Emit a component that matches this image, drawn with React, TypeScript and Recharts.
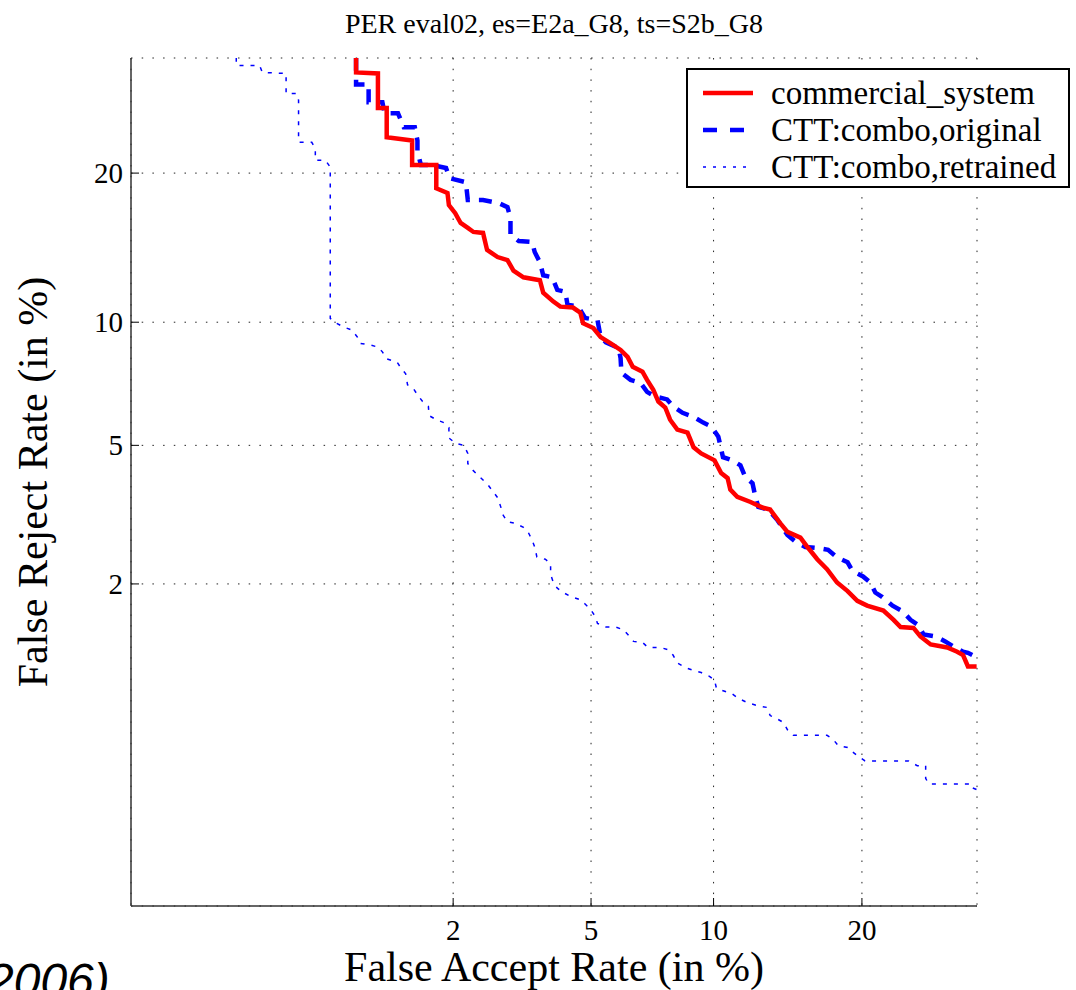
import { LineChart, Line, XAxis, YAxis, CartesianGrid } from "recharts";

// DET curve values: [false accept %, false reject %]
const commercial: [number, number][] = [
  [0.96, 30.8], [0.96, 29.3], [1.14, 29.2], [1.14, 25.8], [1.22, 25.8], [1.22, 23.1], [1.48, 22.8], [1.48, 20.67],
  [1.77, 20.67], [1.77, 18.77], [1.92, 18.4], [1.94, 17.46], [2.03, 16.86], [2.11, 16.14], [2.22, 15.79], [2.31, 15.5],
  [2.47, 15.43], [2.54, 14.27], [2.73, 13.8], [2.92, 13.6], [3.04, 12.94], [3.25, 12.53], [3.62, 12.35], [3.7, 11.61],
  [3.95, 11.11], [4.13, 10.83], [4.47, 10.78], [4.68, 10.5], [4.76, 9.95], [5.07, 9.7], [5.3, 9.25], [5.63, 8.95],
  [5.97, 8.64], [6.22, 8.32], [6.41, 7.88], [6.78, 7.67], [6.96, 7.33], [7.21, 6.93], [7.42, 6.48], [7.71, 6.26],
  [7.92, 5.83], [8.24, 5.5], [8.71, 5.4], [9.0, 4.94], [9.37, 4.76], [10.05, 4.56], [10.4, 4.21], [10.75, 4.08],
  [10.9, 3.79], [11.29, 3.62], [12.06, 3.5], [12.82, 3.37], [13.27, 3.33], [13.93, 3.04], [14.4, 2.87], [15.29, 2.76],
  [15.79, 2.59], [16.5, 2.38], [17.23, 2.22], [18.0, 2.02], [18.83, 1.9], [19.62, 1.77], [20.43, 1.71], [21.83, 1.65],
  [22.73, 1.54], [23.36, 1.46], [24.55, 1.45], [25.2, 1.36], [26.18, 1.28], [27.8, 1.25], [28.8, 1.21], [29.4, 1.18],
  [29.9, 1.08], [30.8, 1.08],
];

const original: [number, number][] = [
  [0.96, 30.8], [0.96, 28.1], [1.06, 28.1], [1.06, 26.36], [1.18, 26.36], [1.2, 25.3], [1.33, 25.3], [1.39, 24.0],
  [1.51, 24.0], [1.54, 22.8], [1.54, 21.9], [1.58, 20.67], [1.72, 20.67], [1.9, 20.42], [1.95, 19.58], [2.19, 19.25],
  [2.22, 17.85], [2.47, 17.85], [2.75, 17.62], [2.92, 17.31], [2.98, 16.5], [2.98, 15.29], [3.15, 14.87], [3.44, 14.8],
  [3.5, 14.13], [3.62, 13.47], [3.7, 12.65], [3.92, 12.53], [4.05, 11.78], [4.26, 11.67], [4.32, 10.94], [4.62, 10.83],
  [4.82, 10.22], [5.2, 10.11], [5.3, 9.25], [5.47, 9.0], [5.9, 8.73], [5.97, 8.27], [6.0, 7.63], [6.33, 7.33],
  [6.7, 7.21], [6.96, 6.85], [7.29, 6.67], [7.79, 6.56], [8.05, 6.3], [8.48, 6.07], [9.0, 5.93], [9.47, 5.73],
  [9.89, 5.6], [10.25, 5.27], [10.5, 4.65], [11.0, 4.56], [11.47, 4.42], [11.76, 4.1], [12.18, 3.95], [12.35, 3.62],
  [12.53, 3.39], [13.13, 3.33], [13.73, 3.11], [14.4, 2.81], [14.93, 2.69], [15.64, 2.59], [16.57, 2.57], [17.31, 2.54],
  [18.0, 2.41], [18.83, 2.33], [19.23, 2.19], [20.09, 2.11], [20.7, 2.02], [21.13, 1.88], [21.74, 1.82], [22.64, 1.71],
  [23.55, 1.64], [24.27, 1.54], [25.0, 1.48], [25.5, 1.38], [26.64, 1.36], [27.6, 1.31], [28.4, 1.26], [29.4, 1.21],
  [29.9, 1.2], [30.8, 1.16],
];

const retrained: [number, number][] = [
  [0.35, 30.8], [0.35, 30.0], [0.43, 30.0], [0.44, 29.3], [0.54, 29.2], [0.54, 27.2], [0.59, 27.2], [0.6, 26.55],
  [0.6, 22.64], [0.67, 22.64], [0.69, 22.1], [0.69, 21.08], [0.75, 21.08], [0.78, 20.5], [0.78, 10.2], [0.82, 9.95],
  [0.87, 9.75], [0.93, 9.6], [0.97, 9.25], [0.99, 8.95], [1.08, 8.86], [1.14, 8.77], [1.18, 8.55], [1.22, 8.23],
  [1.32, 8.09], [1.36, 7.83], [1.41, 7.58], [1.43, 7.13], [1.49, 7.0], [1.54, 6.74], [1.6, 6.48], [1.67, 6.3],
  [1.68, 5.97], [1.77, 5.83], [1.87, 5.73], [1.94, 5.57], [1.94, 5.23], [2.03, 5.07], [2.16, 5.0], [2.22, 4.76],
  [2.22, 4.47], [2.3, 4.29], [2.38, 4.16], [2.47, 4.03], [2.56, 3.9], [2.73, 3.6], [2.79, 3.39], [2.83, 3.22],
  [2.92, 3.07], [3.08, 3.04], [3.25, 2.96], [3.35, 2.87], [3.44, 2.72], [3.5, 2.59], [3.55, 2.42], [3.75, 2.38],
  [3.88, 2.31], [3.88, 2.14], [3.95, 2.02], [4.05, 1.94], [4.21, 1.88], [4.39, 1.83], [4.65, 1.79], [4.82, 1.73],
  [4.97, 1.67], [5.13, 1.58], [5.2, 1.5], [5.47, 1.46], [5.8, 1.46], [6.07, 1.43], [6.26, 1.37], [6.44, 1.31],
  [6.78, 1.3], [7.0, 1.25], [7.5, 1.25], [7.83, 1.23], [8.05, 1.18], [8.24, 1.11], [8.62, 1.07], [8.95, 1.05],
  [9.37, 1.03], [9.79, 1.0], [10.05, 0.97], [10.15, 0.91], [10.55, 0.89], [11.0, 0.87], [11.35, 0.84], [11.88, 0.81],
  [12.53, 0.79], [13.07, 0.78], [13.27, 0.73], [13.73, 0.71], [14.13, 0.69], [14.4, 0.65], [14.8, 0.62], [17.23, 0.62],
  [17.69, 0.6], [18.08, 0.57], [18.83, 0.56], [19.23, 0.54], [19.69, 0.52], [20.26, 0.5], [24.09, 0.5], [24.9, 0.48],
  [25.7, 0.48], [25.7, 0.43], [26.0, 0.41], [30.1, 0.41], [30.1, 0.4], [30.8, 0.39],
];

const tickPercents = [2, 5, 10, 20];
const seriesNames = ["commercial_system", "CTT:combo,original", "CTT:combo,retrained"];

// inverse normal CDF (Acklam) -> DET axes are in normal deviates
function probit(p: number) {
  const a = [-39.69683028665376, 220.9460984245205, -275.9285104469687, 138.357751867269, -30.66479806614716, 2.506628277459239];
  const b = [-54.47609879822406, 161.5858368580409, -155.6989798598866, 66.80131188771972, -13.28068155288572];
  const c = [-0.007784894002430293, -0.3223964580411365, -2.400758277161838, -2.549732539343734, 4.374664141464968, 2.938163982698783];
  const d = [0.007784695709041462, 0.3224671290700398, 2.445134137142996, 3.754408661907416];
  const lo = 0.02425;
  if (p < lo) {
    const q = Math.sqrt(-2 * Math.log(p));
    return (((((c[0] * q + c[1]) * q + c[2]) * q + c[3]) * q + c[4]) * q + c[5]) / ((((d[0] * q + d[1]) * q + d[2]) * q + d[3]) * q + 1);
  }
  if (p <= 1 - lo) {
    const q = p - 0.5;
    const r = q * q;
    return ((((((a[0] * r + a[1]) * r + a[2]) * r + a[3]) * r + a[4]) * r + a[5]) * q) / (((((b[0] * r + b[1]) * r + b[2]) * r + b[3]) * r + b[4]) * r + 1);
  }
  const q = Math.sqrt(-2 * Math.log(1 - p));
  return -(((((c[0] * q + c[1]) * q + c[2]) * q + c[3]) * q + c[4]) * q + c[5]) / ((((d[0] * q + d[1]) * q + d[2]) * q + d[3]) * q + 1);
}

const toDet = (pts: [number, number][]) => pts.map(([far, frr]) => ({ x: probit(far / 100), y: probit(frr / 100) }));
const ticks = tickPercents.map((t) => probit(t / 100));
const label = (v: number) => {
  const i = ticks.findIndex((t) => Math.abs(t - v) < 1e-6);
  return i >= 0 ? String(tickPercents[i]) : "";
};

const SERIF = "'Liberation Serif', 'Times New Roman', serif";

function YTick({ x, y, payload }: any) {
  return (
    <g>
      <line x1={x + 8} x2={x + 16} y1={y} y2={y} stroke="#000" strokeWidth={1} />
      <text x={x} y={y} dy={10} textAnchor="end" fontFamily={SERIF} fontSize={29} fill="#000">
        {label(payload.value)}
      </text>
    </g>
  );
}

function XTick({ x, y, payload }: any) {
  return (
    <g>
      <line x1={x} x2={x} y1={y} y2={y - 8} stroke="#000" strokeWidth={1} />
      <text x={x} y={y + 34} textAnchor="middle" fontFamily={SERIF} fontSize={29} fill="#000">
        {label(payload.value)}
      </text>
    </g>
  );
}

export default function App() {
  return (
    <div style={{ position: "absolute", left: 0, top: 0, width: 1076, height: 990, background: "#fff", overflow: "hidden" }}>
      <LineChart width={1076} height={990} margin={{ top: 58, right: 99, bottom: 44, left: 71 }}>
        <CartesianGrid stroke="#222" strokeDasharray="1.5 9.2" />
        <XAxis
          type="number"
          dataKey="x"
          domain={[-3.009, -0.5004]}
          allowDataOverflow
          ticks={ticks}
          interval={0}
          height={40}
          tickSize={0}
          tickMargin={0}
          tick={<XTick />}
          axisLine={{ stroke: "#333", strokeWidth: 1.5 }}
          tickLine={false}
        />
        <YAxis
          type="number"
          dataKey="y"
          domain={[-3.004, -0.502]}
          allowDataOverflow
          ticks={ticks}
          interval={0}
          width={60}
          tickSize={0}
          tickMargin={8}
          tick={<YTick />}
          axisLine={{ stroke: "#333", strokeWidth: 1.5 }}
          tickLine={false}
        />
        <Line data={toDet(retrained)} dataKey="y" type="linear" stroke="#0000ff" strokeWidth={1.5} strokeDasharray="4 7" dot={false} isAnimationActive={false} />
        <Line data={toDet(original)} dataKey="y" type="linear" stroke="#0000ff" strokeWidth={4.5} strokeDasharray="13 9" dot={false} isAnimationActive={false} />
        <Line data={toDet(commercial)} dataKey="y" type="linear" stroke="#ff0000" strokeWidth={4.5} dot={false} isAnimationActive={false} />
      </LineChart>

      <svg width={1076} height={990} style={{ position: "absolute", left: 0, top: 0, pointerEvents: "none" }}>
        <text x={554} y={33} textAnchor="middle" fontFamily={SERIF} fontSize={28} fill="#000">
          PER eval02, es=E2a_G8, ts=S2b_G8
        </text>
        <text x={554} y={981} textAnchor="middle" fontFamily={SERIF} fontSize={42} fill="#000">
          False Accept Rate (in %)
        </text>
        <text transform="translate(47,482) rotate(-90)" textAnchor="middle" fontFamily={SERIF} fontSize={42} fill="#000">
          False Reject Rate (in %)
        </text>
        <text x={-13} y={997} fontFamily="'Liberation Sans', Arial, sans-serif" fontStyle="italic" fontSize={48} fill="#000">
          2006)
        </text>

        {/* legend */}
        <rect x={687} y={69} width={382} height={118} fill="#fff" stroke="#000" strokeWidth={2} />
        <line x1={703} x2={753} y1={93} y2={93} stroke="#ff0000" strokeWidth={4.5} />
        <line x1={703} x2={753} y1={130} y2={130} stroke="#0000ff" strokeWidth={4.5} strokeDasharray="14 13" />
        <line x1={703} x2={753} y1={167} y2={167} stroke="#0000ff" strokeWidth={1.5} strokeDasharray="3 7" />
        {seriesNames.map((n, i) => (
          <text key={n} x={771} y={104 + i * 37} fontFamily={SERIF} fontSize={33} fill="#000">
            {n}
          </text>
        ))}
      </svg>
    </div>
  );
}
